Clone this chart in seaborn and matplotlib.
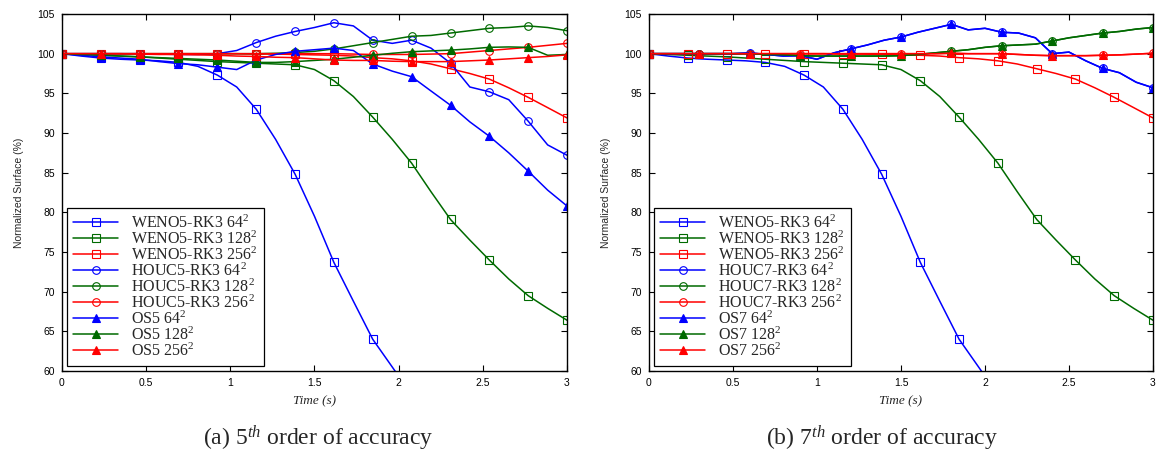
import matplotlib
matplotlib.use("Agg")
import matplotlib.pyplot as plt
import seaborn as sns
from matplotlib.ticker import FormatStrFormatter, MultipleLocator

# --- data (time in s, normalized surface in %) ---
t_grid = [0.000, 0.115, 0.231, 0.346, 0.462, 0.577, 0.692, 0.808, 0.923,
          1.038, 1.154, 1.269, 1.385, 1.500, 1.615, 1.731, 1.846, 1.962,
          2.077, 2.192, 2.308, 2.423, 2.538, 2.654, 2.769, 2.885, 3.000]

weno_64 = [100, 99.7, 99.45, 99.3, 99.2, 99.1, 98.9, 98.4, 97.3, 95.8, 93.0,
           89.2, 84.8, 79.5, 73.7, 68.8, 64.0, 60.5, 57.0]
weno_128 = [100, 99.9, 99.8, 99.7, 99.6, 99.45, 99.3, 99.15, 99.0, 98.9, 98.8,
            98.7, 98.6, 98.0, 96.6, 94.6, 92.0, 89.2, 86.2, 82.6, 79.1, 76.5,
            74.0, 71.6, 69.5, 67.9, 66.4]
weno_256 = [100, 100, 100, 100, 100, 100, 100, 100, 100, 100, 99.95, 99.95,
            99.9, 99.85, 99.8, 99.7, 99.5, 99.35, 99.1, 98.7, 98.1, 97.5, 96.8,
            95.7, 94.5, 93.2, 91.9]

houc5_64 = [100, 100, 100, 100, 100, 99.95, 99.9, 99.9, 100.0, 100.4, 101.4,
            102.2, 102.8, 103.3, 103.9, 103.5, 101.7, 101.3, 101.7, 100.7, 98.8,
            95.8, 95.2, 94.2, 91.5, 88.5, 87.2]
houc5_128 = [100, 100, 100, 100, 100, 100, 100, 100, 100, 100, 100, 100.05,
             100.15, 100.3, 100.6, 101.0, 101.4, 101.8, 102.2, 102.3, 102.6,
             102.9, 103.2, 103.3, 103.5, 103.3, 102.9]
houc5_256 = [100, 100, 100, 100, 100, 100, 100, 100, 100, 100, 100, 100, 100,
             100, 100, 99.95, 99.9, 99.9, 99.9, 99.95, 100.0, 100.2, 100.4,
             100.6, 100.8, 101.05, 101.3]

os5_64 = [100, 99.8, 99.6, 99.45, 99.3, 99.0, 98.75, 98.6, 98.3, 98.0, 99.2,
          99.9, 100.3, 100.5, 100.7, 100.4, 98.7, 97.8, 97.1, 95.3, 93.5, 91.4,
          89.6, 87.5, 85.2, 82.8, 80.8]
os5_128 = [100, 99.9, 99.85, 99.7, 99.6, 99.5, 99.4, 99.3, 99.2, 99.05, 98.9,
           98.9, 99.0, 99.15, 99.3, 99.55, 99.8, 100.05, 100.25, 100.35, 100.45,
           100.6, 100.8, 100.85, 100.8, 99.8, 99.9]
os5_256 = [100, 100, 100, 100, 99.95, 99.9, 99.9, 99.85, 99.8, 99.7, 99.65,
           99.55, 99.5, 99.35, 99.2, 99.15, 99.15, 99.05, 99.0, 99.0, 99.0,
           99.1, 99.2, 99.35, 99.5, 99.65, 99.85]

t_houc7 = [0.0, 0.1, 0.2, 0.3, 0.4, 0.5, 0.6, 0.7, 0.8, 0.9, 1.0, 1.1, 1.2,
           1.3, 1.4, 1.5, 1.6, 1.7, 1.8, 1.9, 2.0, 2.1, 2.2, 2.3, 2.4, 2.5,
           2.6, 2.7, 2.8, 2.9, 3.0]
houc7_64 = [100, 100, 100, 100, 100, 100, 100.1, 99.9, 99.7, 99.75, 99.3,
            100.1, 100.6, 101.1, 101.7, 102.1, 102.7, 103.2, 103.7, 103.0,
            103.2, 102.7, 102.6, 102.0, 100.0, 100.2, 99.1, 98.15, 97.6, 96.4,
            95.7]
houc7_128 = [100, 100, 100, 100, 100, 100, 100, 99.9, 99.85, 99.75, 99.7,
             99.7, 99.7, 99.7, 99.7, 99.75, 99.9, 100.1, 100.3, 100.5, 100.8,
             101.0, 101.1, 101.2, 101.6, 102.0, 102.3, 102.6, 102.8, 103.1,
             103.3]
houc7_256 = [100, 100, 100, 100, 100, 100, 100, 100, 100, 100, 100, 100, 100,
             100, 100, 100, 100, 100, 100.05, 100, 100, 100, 99.9, 99.8, 99.75,
             99.75, 99.75, 99.8, 99.85, 99.95, 100.05]
# OS7 lies on top of HOUC7 in panel (b)
os7_64, os7_128, os7_256 = houc7_64, houc7_128, houc7_256

BLUE, GREEN, RED = "#0000ff", "#006a00", "#ff0000"

panel_a = [
    ("WENO5-RK3 64$^2$", t_grid, weno_64, BLUE, "s", False, 2),
    ("WENO5-RK3 128$^2$", t_grid, weno_128, GREEN, "s", False, 2),
    ("WENO5-RK3 256$^2$", t_grid, weno_256, RED, "s", False, 2),
    ("HOUC5-RK3 64$^2$", t_grid, houc5_64, BLUE, "o", False, 2),
    ("HOUC5-RK3 128$^2$", t_grid, houc5_128, GREEN, "o", False, 2),
    ("HOUC5-RK3 256$^2$", t_grid, houc5_256, RED, "o", False, 2),
    ("OS5 64$^2$", t_grid, os5_64, BLUE, "^", True, 2),
    ("OS5 128$^2$", t_grid, os5_128, GREEN, "^", True, 2),
    ("OS5 256$^2$", t_grid, os5_256, RED, "^", True, 2),
]
panel_b = [
    ("WENO5-RK3 64$^2$", t_grid, weno_64, BLUE, "s", False, 2),
    ("WENO5-RK3 128$^2$", t_grid, weno_128, GREEN, "s", False, 2),
    ("WENO5-RK3 256$^2$", t_grid, weno_256, RED, "s", False, 2),
    ("HOUC7-RK3 64$^2$", t_houc7, houc7_64, BLUE, "o", False, 3),
    ("HOUC7-RK3 128$^2$", t_houc7, houc7_128, GREEN, "o", False, 3),
    ("HOUC7-RK3 256$^2$", t_houc7, houc7_256, RED, "o", False, 3),
    ("OS7 64$^2$", t_houc7, os7_64, BLUE, "^", True, 3),
    ("OS7 128$^2$", t_houc7, os7_128, GREEN, "^", True, 3),
    ("OS7 256$^2$", t_houc7, os7_256, RED, "^", True, 3),
]

sns.set_style("ticks")
plt.rcParams["font.family"] = ["Liberation Sans", "DejaVu Sans"]
plt.rcParams["mathtext.fontset"] = "custom"
plt.rcParams["mathtext.rm"] = "Liberation Serif"
plt.rcParams["mathtext.it"] = "Liberation Serif:italic"

fig = plt.figure(figsize=(11.56, 4.55), dpi=100)
ax_a = fig.add_axes([0.0536, 0.1846, 0.4369, 0.7846])
ax_b = fig.add_axes([0.5614, 0.1846, 0.4360, 0.7846])


def draw(ax, series):
    for label, t, vals, color, marker, filled, every in series:
        sns.lineplot(x=t[:len(vals)], y=vals, ax=ax, color=color,
                     marker=marker, markevery=every, markersize=5.5,
                     markerfacecolor=color if filled else "none",
                     markeredgecolor=color, markeredgewidth=0.8,
                     linewidth=1.1, estimator=None, sort=False, label=label)
    ax.set_xlim(0, 3)
    ax.set_ylim(60, 105)
    ax.xaxis.set_major_locator(MultipleLocator(0.5))
    ax.yaxis.set_major_locator(MultipleLocator(5))
    ax.xaxis.set_major_formatter(FormatStrFormatter("%g"))
    ax.tick_params(direction="in", top=True, right=True, length=4,
                   width=0.8, labelsize=7.5, pad=5, colors="black")
    for sp in ax.spines.values():
        sp.set_linewidth(1.0)
        sp.set_color("black")
    ax.set_xlabel("Time (s)", family="Liberation Serif", style="italic",
                  fontsize=9.5, labelpad=5)
    ax.set_ylabel("Normalized Surface (%)", fontsize=7.5, labelpad=10)
    leg = ax.legend(loc="lower left", bbox_to_anchor=(0.01, 0.013),
                    borderaxespad=0, prop={"family": "Liberation Serif",
                                           "size": 11.5},
                    frameon=True, fancybox=False, edgecolor="black",
                    framealpha=1, handlelength=2.8, handletextpad=0.8,
                    labelspacing=-0.08, borderpad=0.4, numpoints=1)
    leg.get_frame().set_linewidth(0.9)


draw(ax_a, panel_a)
draw(ax_b, panel_b)

fig.text(0.275, 0.022, "(a) 5$^{th}$ order of accuracy", ha="center",
         family="Liberation Serif", fontsize=17)
fig.text(0.763, 0.022, "(b) 7$^{th}$ order of accuracy", ha="center",
         family="Liberation Serif", fontsize=17)

fig.savefig("out.png", dpi=100)
